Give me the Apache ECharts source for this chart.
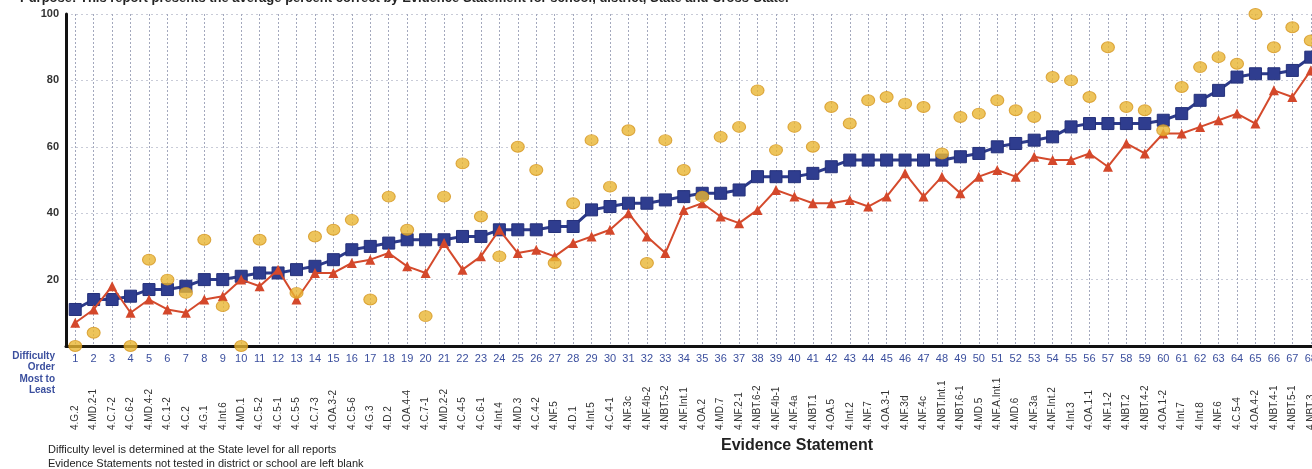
<!DOCTYPE html>
<html>
<head>
<meta charset="utf-8">
<script src="https://cdn.jsdelivr.net/npm/echarts@6/dist/echarts.min.js"></script>
<style>
  html, body { margin: 0; padding: 0; background: #fff; }
  #chart { width: 1312px; height: 469px; }
</style>
</head>
<body>
<div id="chart"></div>
<script>
// difficulty order 1..68 and the evidence statement for each
const order = []
for (let i = 1; i <= 68; i++) order.push(String(i))
const statements = ['4.G.2', '4.MD.2-1', '4.C.7-2', '4.C.6-2', '4.MD.4-2', '4.C.1-2', '4.C.2', '4.G.1', '4.Int.6', '4.MD.1',
  '4.C.5-2', '4.C.5-1', '4.C.5-5', '4.C.7-3', '4.OA.3-2', '4.C.5-6', '4.G.3', '4.D.2', '4.OA.4-4', '4.C.7-1',
  '4.MD.2-2', '4.C.4-5', '4.C.6-1', '4.Int.4', '4.MD.3', '4.C.4-2', '4.NF.5', '4.D.1', '4.Int.5', '4.C.4-1',
  '4.NF.3c', '4.NF.4b-2', '4.NBT.5-2', '4.NF.Int.1', '4.OA.2', '4.MD.7', '4.NF.2-1', '4.NBT.6-2', '4.NF.4b-1', '4.NF.4a',
  '4.NBT.1', '4.OA.5', '4.Int.2', '4.NF.7', '4.OA.3-1', '4.NF.3d', '4.NF.4c', '4.NBT.Int.1', '4.NBT.6-1', '4.MD.5',
  '4.NF.A.Int.1', '4.MD.6', '4.NF.3a', '4.NF.Int.2', '4.Int.3', '4.OA.1-1', '4.NF.1-2', '4.NBT.2', '4.NBT.4-2', '4.OA.1-2',
  '4.Int.7', '4.Int.8', '4.NF.6', '4.C.5-4', '4.OA.4-2', '4.NBT.4-1', '4.NBT.5-1', '4.NBT.3']

// blue squares
const stateVals = [11, 14, 14, 15, 17, 17, 18, 20, 20, 21, 22, 22, 23, 24, 26, 29, 30, 31, 32, 32,
  32, 33, 33, 35, 35, 35, 36, 36, 41, 42, 43, 43, 44, 45, 46, 46, 47, 51, 51, 51,
  52, 54, 56, 56, 56, 56, 56, 56, 57, 58, 60, 61, 62, 63, 66, 67, 67, 67, 67, 68,
  70, 74, 77, 81, 82, 82, 83, 87]
// red triangles
const districtVals = [7, 11, 18, 10, 14, 11, 10, 14, 15, 20, 18, 23, 14, 22, 22, 25, 26, 28, 24, 22,
  31, 23, 27, 35, 28, 29, 27, 31, 33, 35, 40, 33, 28, 41, 43, 39, 37, 41, 47, 45,
  43, 43, 44, 42, 45, 52, 45, 51, 46, 51, 53, 51, 57, 56, 56, 58, 54, 61, 58, 64,
  64, 66, 68, 70, 67, 77, 75, 83]
// gold circles (null = not tested)
const schoolVals = [0, 4, null, 0, 26, 20, 16, 32, 12, 0, 32, null, 16, 33, 35, 38, 14, 45, 35, 9,
  45, 55, 39, 27, 60, 53, 25, 43, 62, 48, 65, 25, 62, 53, 45, 63, 66, 77, 59, 66,
  60, 72, 67, 74, 75, 73, 72, 58, 69, 70, 74, 71, 69, 81, 80, 75, 90, 72, 71, 65,
  78, 84, 87, 85, 100, 90, 96, 92]

const yTicks = [0, 20, 40, 60, 80, 100]
const leftNote = ['Difficulty', 'Order', 'Most to', 'Least']

const dom = echarts.init(document.getElementById('chart'))
const font = 'Arial, "Liberation Sans", sans-serif'

const noteText = leftNote.map((t, i) => ({
  type: 'text',
  right: 1312 - 55,
  top: 351 + i * 11.5,
  style: { text: t, font: 'bold 10px ' + font, fill: '#3b4f9e' }
}))

dom.setOption({
  animation: false,
  backgroundColor: '#fff',
  title: {
    text: 'Purpose: This report presents the average percent correct by Evidence Statement for school, district, State and Cross-State.',
    left: 15,
    top: -13,
    textStyle: { fontFamily: font, fontSize: 13, fontWeight: 'bold', color: '#222' }
  },
  grid: {
    left: 66,
    top: 14,
    width: 1254,
    bottom: 123,
    outerBoundsMode: 'none',
    containLabel: false
  },
  xAxis: [
    {
      type: 'category',
      data: order,
      boundaryGap: true,
      axisLine: { lineStyle: { color: '#111', width: 3 } },
      axisTick: { show: false },
      axisLabel: { interval: 0, margin: 7, fontFamily: font, fontSize: 11, color: '#3b4f9e' },
      splitLine: {
        show: true,
        alignWithLabel: true,
        lineStyle: { color: '#a3a8bd', width: 1, type: [2, 2] }
      }
    },
    {
      type: 'category',
      data: statements,
      position: 'bottom',
      boundaryGap: true,
      axisLine: { show: false },
      axisTick: { show: false },
      axisLabel: {
        interval: 0,
        rotate: 90,
        margin: 84,
        align: 'left',
        verticalAlign: 'middle',
        fontFamily: font,
        fontSize: 10,
        color: '#333'
      }
    }
  ],
  yAxis: {
    type: 'value',
    min: 0,
    max: 100,
    interval: 20,
    axisLine: { show: true, lineStyle: { color: '#111', width: 3 } },
    axisTick: { show: false },
    axisLabel: {
      margin: 7,
      fontFamily: font,
      fontSize: 11,
      fontWeight: 'bold',
      color: '#333',
      formatter: v => (yTicks.indexOf(v) > 0 ? String(v) : '')
    },
    splitLine: { lineStyle: { color: '#c9ccd8', width: 1, type: [2, 3] } }
  },
  series: [
    {
      name: 'State',
      type: 'line',
      data: stateVals,
      symbol: 'rect',
      symbolSize: 12,
      lineStyle: { color: '#2c3a8a', width: 3 },
      itemStyle: { color: '#2f3d8f', borderColor: '#24307a', borderWidth: 1 },
      z: 3
    },
    {
      name: 'District',
      type: 'line',
      data: districtVals,
      symbol: 'triangle',
      symbolSize: 10,
      lineStyle: { color: '#d44a2c', width: 2 },
      itemStyle: { color: '#d4482b' },
      z: 4
    },
    {
      name: 'School',
      type: 'scatter',
      data: schoolVals,
      symbol: 'circle',
      symbolSize: [13, 11],
      itemStyle: { color: '#e8b532', borderColor: '#d6961f', borderWidth: 1 },
      z: 5
    }
  ],
  graphic: noteText.concat([
    {
      type: 'text',
      left: 721,
      top: 438,
      style: { text: 'Evidence Statement', font: 'bold 16px ' + font, fill: '#222' }
    },
    {
      type: 'text',
      left: 48,
      top: 443,
      style: {
        text: 'Difficulty level is determined at the State level for all reports\nEvidence Statements not tested in district or school are left blank',
        font: '11px ' + font,
        fill: '#222',
        lineHeight: 14
      }
    }
  ])
})

window.addEventListener('resize', () => dom.resize())
</script>
</body>
</html>
